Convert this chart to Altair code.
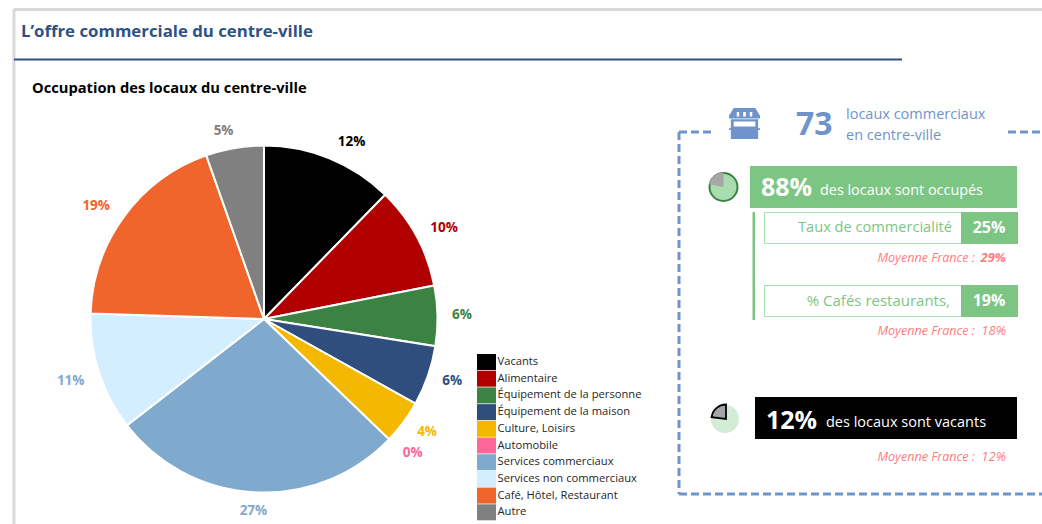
import math
import altair as alt
import pandas as pd

# Occupation of the premises, clockwise from the top (share of the 73 premises)
CATEGORIES = ["Vacants", "Alimentaire", "Équipement de la personne", "Équipement de la maison",
              "Culture, Loisirs", "Automobile", "Services commerciaux",
              "Services non commerciaux", "Café, Hôtel, Restaurant", "Autre"]
SHARES = [0.123, 0.096, 0.056, 0.056, 0.041, 0.0, 0.273, 0.110, 0.191, 0.054]
COLORS = ["#000000", "#b00000", "#3c8243", "#2f4e7e", "#f5b800", "#ff6699",
          "#7fa9cd", "#d2eeff", "#f0652b", "#808080"]
LABEL_COLORS = ["#000000", "#b00000", "#3c8243", "#2f4e7e", "#f5b800", "#ff6699",
                "#7fa9cd", "#7fa9cd", "#f0652b", "#808080"]
# Manual placement of each percentage around the pie, in pixels
LABEL_NUDGES = [(13, 6), (6, 3), (0, 0), (1, -3), (4, -5), (6, -3), (0, -6), (-5, 1), (-8, 4), (-7, 7)]

TITLE = "L’offre commerciale du centre-ville"
SUBTITLE = "Occupation des locaux du centre-ville"

GREEN = "#7dc583"
PALE_GREEN = "#a9dcae"
BLUE = "#6f94cc"
NAVY = "#2f5285"
SALMON = "#ff7c80"
FONT = "Open Sans"

W, H = 1042, 524
ONE_ROW = alt.Data(values=[{}])
FULL_TURN = 2 * math.pi

pie_data = pd.DataFrame({"cat": CATEGORIES, "share": SHARES, "rank": range(len(SHARES))})
color_scale = alt.Scale(domain=CATEGORIES, range=COLORS)
label_scale = alt.Scale(domain=CATEGORIES, range=LABEL_COLORS)
theta_scale = alt.Scale(domain=[0, 1], range=[0, FULL_TURN])
CX, CY, R = 264, 319, 173.5

legend = alt.Legend(
    title=None, orient="none", legendX=478.5, legendY=354, columns=1,
    symbolType="M-1.19,-1H1.19V1H-1.19Z", symbolSize=256, symbolStrokeWidth=0,
    labelFont=FONT, labelFontSize=11.2, labelColor="#262626", labelOffset=3,
    rowPadding=0.7, labelLimit=200, padding=0,
)

pie_base = alt.Chart(pie_data).transform_stack(
    stack="share", groupby=[], as_=["lo", "hi"], sort=[alt.SortField("rank")]
).transform_calculate(mid="(datum.lo + datum.hi) / 2")

pie = pie_base.mark_arc(outerRadius=R, stroke="white", strokeWidth=2).encode(
    theta=alt.Theta("lo:Q", scale=theta_scale),
    theta2="hi:Q",
    x=alt.value(CX), y=alt.value(CY),
    color=alt.Color("cat:N", scale=color_scale, sort=CATEGORIES, legend=legend),
)

pie_labels = [
    pie_base.transform_filter(alt.datum.rank == i).mark_text(
        radius=198, font=FONT, fontSize=13.5, fontWeight="bold", dx=dx, dy=dy,
    ).encode(
        theta=alt.Theta("mid:Q", scale=theta_scale),
        x=alt.value(CX), y=alt.value(CY),
        text=alt.Text("share:Q", format=".0%"),
        fill=alt.Fill("cat:N", scale=label_scale, legend=None),
    )
    for i, (dx, dy) in enumerate(LABEL_NUDGES)
]


def rect(x0, x1, y0, y1, fill="none", stroke=None, sw=0):
    kw = dict(fill=fill)
    if stroke:
        kw.update(stroke=stroke, strokeWidth=sw)
    return alt.Chart(ONE_ROW).mark_rect(**kw).encode(
        x=alt.value(x0), x2=alt.value(x1), y=alt.value(y0), y2=alt.value(y1))


def rule(x0, x1, y0, y1, color, sw, dash=None):
    kw = dict(color=color, strokeWidth=sw)
    if dash:
        kw.update(strokeDash=dash)
    return alt.Chart(ONE_ROW).mark_rule(**kw).encode(
        x=alt.value(x0), x2=alt.value(x1), y=alt.value(y0), y2=alt.value(y1))


def label(x, y, string, size, color, bold=False, italic=False, align="left"):
    kw = dict(text=string, font=FONT, fontSize=size, color=color, align=align, baseline="middle")
    if bold:
        kw["fontWeight"] = "bold"
    if italic:
        kw["fontStyle"] = "italic"
    return alt.Chart(ONE_ROW).mark_text(**kw).encode(x=alt.value(x), y=alt.value(y))


def wedge(x, y, radius, share, fill, stroke=None, sw=0):
    kw = dict(outerRadius=radius, theta=FULL_TURN * (1 - share), theta2=FULL_TURN, fill=fill)
    if stroke:
        kw.update(stroke=stroke, strokeWidth=sw)
    return alt.Chart(ONE_ROW).mark_arc(**kw).encode(x=alt.value(x), y=alt.value(y))


def disc(x, y, radius, fill, stroke=None, sw=0):
    kw = dict(outerRadius=radius, theta=0, theta2=FULL_TURN, fill=fill)
    if stroke:
        kw.update(stroke=stroke, strokeWidth=sw)
    return alt.Chart(ONE_ROW).mark_arc(**kw).encode(x=alt.value(x), y=alt.value(y))


# Shop front: awning with three slots, counter and window
STORE_PATH = (
    "M-0.7,-1H0.7L1,-0.5V-0.33H-1V-0.5Z"
    "M-0.5,-0.75V-0.45H-0.34V-0.75Z M-0.09,-0.75V-0.45H0.09V-0.75Z M0.34,-0.75V-0.45H0.5V-0.75Z"
    "M-0.88,-0.28H0.88V0.3H1V0.42H0.88V1H-0.88V0.42H-1V0.3H-0.88Z"
    "M-0.7,-0.13V0.2H0.7V-0.13Z"
)
store = alt.Chart(ONE_ROW).mark_point(
    shape=STORE_PATH, size=961, filled=True, fill=BLUE, opacity=1, strokeWidth=0
).encode(x=alt.value(744.5), y=alt.value(123.5))

frame = [
    rule(14, W, 9.5, 9.5, "#d9d9d9", 3),
    rule(14, 14, 9, H, "#d9d9d9", 3),
    rule(14, 902, 59.5, 59.5, NAVY, 2),
    label(21, 32, TITLE, 16.8, NAVY, bold=True),
    label(32, 89, SUBTITLE, 14.7, "#000000", bold=True),
]

DASH = [8, 4]
box = [
    rule(679, 711, 132, 132, BLUE, 3, DASH),
    rule(1008, W, 132, 132, BLUE, 3, DASH),
    rule(679, 679, 132, 494, BLUE, 3, DASH),
    rule(679, W, 494, 494, BLUE, 3, DASH),
    store,
    label(796, 125, "73", 32, BLUE, bold=True),
    label(846, 115, "locaux commerciaux", 14.5, BLUE),
    label(846, 136, "en centre-ville", 14.5, BLUE),
]

occupied = [
    disc(723.5, 187, 14, PALE_GREEN, "#3c8243", 2),
    wedge(723.5, 187, 14.5, 0.22, "#a6a6a6"),
    rect(750, 1017, 166, 208, GREEN),
    label(761, 188, "88%", 25, "white", bold=True),
    label(820, 191, "des locaux sont occupés", 14.4, "white"),
    rect(752.5, 755, 212, 320, GREEN),
    rect(764.5, 1017.5, 212.5, 243.5, "white", PALE_GREEN, 1),
    rect(961, 1018, 212, 244, GREEN),
    label(952, 228, "Taux de commercialité", 14.6, GREEN, align="right"),
    label(989, 228, "25%", 16, "white", bold=True, align="center"),
    label(975, 258, "Moyenne France :", 12.6, SALMON, italic=True, align="right"),
    label(1006, 258, "29%", 13, SALMON, bold=True, italic=True, align="right"),
    rect(764.5, 1017.5, 285.5, 316.5, "white", PALE_GREEN, 1),
    rect(961, 1018, 285, 317, GREEN),
    label(950, 301, "% Cafés restaurants,", 15, GREEN, align="right"),
    label(989, 301, "19%", 16, "white", bold=True, align="center"),
    label(975, 331, "Moyenne France :", 12.6, SALMON, italic=True, align="right"),
    label(1006, 331, "18%", 13, SALMON, italic=True, align="right"),
]

vacant = [
    disc(725, 419, 14, "#d3ecd5"),
    wedge(726, 419, 14.5, 0.23, "#a6a6a6", "#000000", 1.8),
    rect(755, 1017, 397, 439, "#000000"),
    label(766, 421, "12%", 25, "white", bold=True),
    label(826, 423, "des locaux sont vacants", 14.5, "white"),
    label(975, 457, "Moyenne France :", 12.6, SALMON, italic=True, align="right"),
    label(1006, 457, "12%", 13, SALMON, italic=True, align="right"),
]

chart = alt.layer(*frame, *box, *occupied, *vacant, pie, *pie_labels).resolve_scale(
    color="independent", fill="independent"
).properties(
    width=W, height=H, padding=0, background="white",
    autosize=alt.AutoSizeParams(type="none"),
).configure_view(stroke=None)

chart.save("out.html", embed_options={"renderer": "svg", "actions": False})
